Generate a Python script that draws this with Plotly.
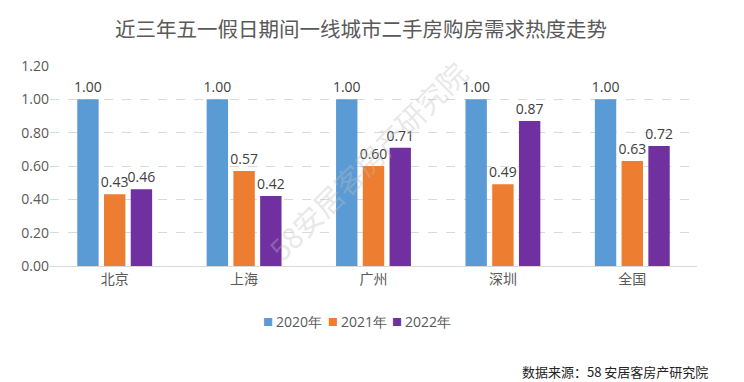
import plotly.graph_objects as go

categories = ["北京", "上海", "广州", "深圳", "全国"]
series_names = ["2020年", "2021年", "2022年"]
v2020 = [1.00, 1.00, 1.00, 1.00, 1.00]
v2021 = [0.43, 0.57, 0.60, 0.49, 0.63]
v2022 = [0.46, 0.42, 0.71, 0.87, 0.72]
y_ticks = [0.0, 0.2, 0.4, 0.6, 0.8, 1.0, 1.2]

colors = ["#5B9BD5", "#ED7D31", "#7030A0"]
font_cjk = "Noto Sans CJK SC, Noto Sans, sans-serif"
font_num = "Open Sans, Noto Sans, sans-serif"

W, H = 736, 374
ML, MR, MT, MB = 42, 47, 58, 116
PW, PH = W - ML - MR, H - MT - MB


def px_x(x):
    return (x - ML) / PW


def px_y(y):
    return (H - MB - y) / PH


fig = go.Figure()
for name, vals, c in zip(series_names, [v2020, v2021, v2022], colors):
    fig.add_trace(go.Bar(
        x=categories, y=vals, name=name, marker=dict(color=c, line=dict(width=0)),
        text=[f"{v:.2f}" for v in vals], textposition="outside",
        textfont=dict(size=14, color="#404040", family=font_num),
        constraintext="none", cliponaxis=False, showlegend=False,
    ))

fig.update_layout(
    width=W, height=H,
    paper_bgcolor="white", plot_bgcolor="white",
    barmode="group", bargap=0.38, bargroupgap=0.2,
    margin=dict(l=ML, r=MR, t=MT, b=MB),
    title=dict(text="近三年五一假日期间一线城市二手房购房需求热度走势",
               x=353 / W, xanchor="center", xref="container",
               y=1 - 22 / H, yanchor="middle", yref="container",
               font=dict(size=20.5, color="#595959", family=font_cjk)),
    xaxis=dict(showline=True, linecolor="#D9D9D9", linewidth=1, ticks="",
               tickfont=dict(size=14, color="#595959", family=font_cjk)),
    yaxis=dict(range=[0, 1.2], tickvals=y_ticks, tickformat=".2f",
               showgrid=True, gridcolor="#D9D9D9", griddash="dash", gridwidth=1,
               zeroline=False, showline=False, ticks="",
               tickfont=dict(size=14, color="#595959", family=font_num)),
    showlegend=False,
)

# legend drawn as text items (compact, like the original)
legend_y = 313
for i, (name, c) in enumerate(zip(series_names, colors)):
    sq_x = 260 + i * 64.5
    fig.add_annotation(text="■", xref="paper", yref="paper",
                       x=px_x(sq_x), xanchor="center", y=px_y(legend_y), yanchor="middle",
                       showarrow=False, font=dict(size=10, color=c, family=font_cjk))
    fig.add_annotation(text=name, xref="paper", yref="paper",
                       x=px_x(sq_x + 6), xanchor="left", y=px_y(legend_y), yanchor="middle",
                       showarrow=False, font=dict(size=14, color="#595959", family=font_num))

fig.add_annotation(text="数据来源：58 安居客房产研究院", xref="paper", yref="paper",
                   x=px_x(702), xanchor="right", y=px_y(363), yanchor="middle", showarrow=False,
                   font=dict(size=13, color="#222222", family=font_cjk))

# faint diagonal watermark
fig.add_annotation(text="58安居客房产研究院", xref="paper", yref="paper",
                   x=0.49, y=0.53, showarrow=False, textangle=-45,
                   font=dict(size=29, color="rgba(190,190,190,0.35)", family=font_cjk))

fig.write_html("out.html")
